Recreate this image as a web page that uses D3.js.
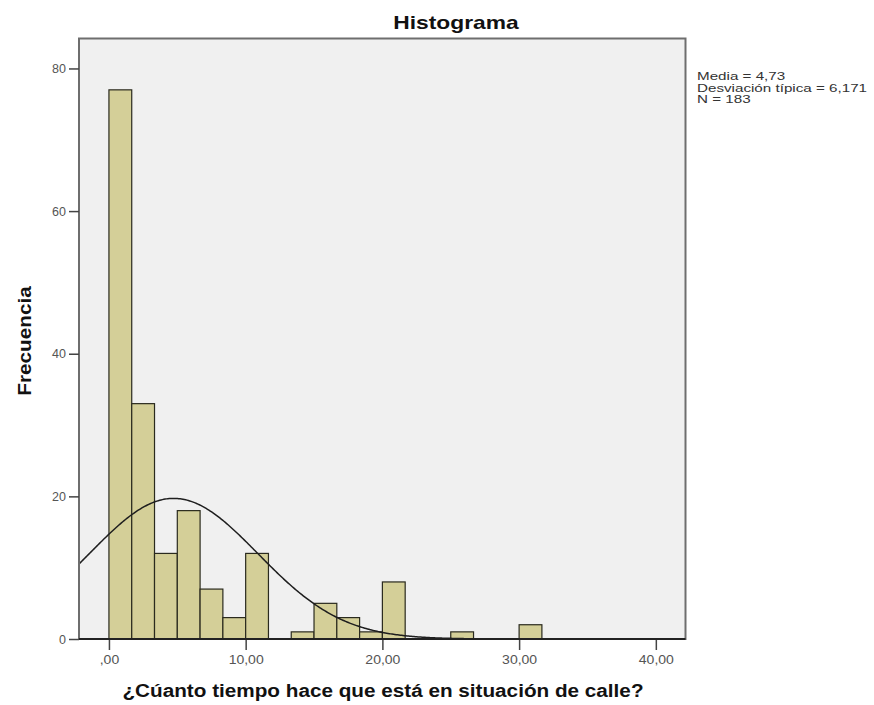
<!DOCTYPE html>
<html>
<head>
<meta charset="utf-8">
<script src="https://cdnjs.cloudflare.com/ajax/libs/d3/7.8.5/d3.min.js"></script>
<style>
    body { margin: 0; background: #ffffff; }
    text { font-family: Arial, "Liberation Sans", sans-serif; }
</style>
</head>
<body>
<div id="chart"></div>
<script>
// Frequencies per bin (bin width 1,667), starting at ,00
const binWidth = 5 / 3;
const counts = [77, 33, 12, 18, 7, 3, 12, 0, 1, 5, 3, 1, 8, 0, 0, 1, 0, 0, 2];
const xTicks = [0, 10, 20, 30, 40];
const yTicks = [0, 20, 40, 60, 80];
const statLabels = ["Media = 4,73", "Desviación típica = 6,171", "N = 183"];
const mean = 4.73, sd = 6.171, n = 183;

const totalWidth = 874, totalHeight = 705;
const margin = {top: 38.5, right: 188.5, bottom: 66, left: 79};
const width = totalWidth - margin.left - margin.right,
    height = totalHeight - margin.top - margin.bottom;

const svg = d3.select("#chart").append("svg")
    .attr("width", totalWidth)
    .attr("height", totalHeight);

const g = svg.append("g")
    .attr("transform", "translate(" + margin.left + "," + margin.top + ")");

const x = d3.scaleLinear().domain([-2.19, 42.17]).range([0, width]);
const y = d3.scaleLinear().domain([0, 84.2]).range([height, 0]);

// stretch a text horizontally (the reference glyphs are wide)
function stretch(sel, factor) {
    sel.each(function() {
        let len = this.getComputedTextLength();
        d3.select(this)
            .attr("textLength", len * factor)
            .attr("lengthAdjust", "spacingAndGlyphs");
    });
}

// plot background
g.append("rect")
    .attr("width", width)
    .attr("height", height)
    .attr("fill", "#f0f0f0");

// bars (empty bins are not drawn)
const bins = counts.map((c, i) => ({x0: i * binWidth, x1: (i + 1) * binWidth, count: c}))
    .filter(d => d.count > 0);

g.selectAll(".bar")
    .data(bins)
    .enter().append("rect")
    .attr("class", "bar")
    .attr("x", d => x(d.x0))
    .attr("y", d => y(d.count))
    .attr("width", d => x(d.x1) - x(d.x0))
    .attr("height", d => y(0) - y(d.count))
    .attr("fill", "#d4cf98")
    .attr("stroke", "#2a2a1e")
    .attr("stroke-width", 1.2);

// fitted normal curve
const curveData = d3.range(x.domain()[0], x.domain()[1], 0.1).map(v => ({
    x: v,
    y: n * binWidth / (sd * Math.sqrt(2 * Math.PI)) * Math.exp(-((v - mean) ** 2) / (2 * sd * sd))
}));

g.append("path")
    .datum(curveData)
    .attr("fill", "none")
    .attr("stroke", "#1e1e1e")
    .attr("stroke-width", 1.5)
    .attr("d", d3.line().x(d => x(d.x)).y(d => y(d.y)));

// frame
g.append("rect")
    .attr("width", width)
    .attr("height", height)
    .attr("fill", "none")
    .attr("stroke", "#6e6e6e")
    .attr("stroke-width", 2);

// axes
const fmt = d => d === 0 ? ",00" : d3.format(".2f")(d).replace(".", ",");

const xAxis = d3.axisBottom(x).tickValues(xTicks).tickFormat(fmt).tickSize(11).tickPadding(5);
const yAxis = d3.axisLeft(y).tickValues(yTicks).tickFormat(d3.format("d")).tickSize(10).tickPadding(3);

const xAxisGroup = g.append("g")
    .attr("class", "x-axis axis")
    .attr("transform", `translate(0,${height})`)
    .call(xAxis);

const yAxisGroup = g.append("g")
    .attr("class", "y-axis axis")
    .call(yAxis);

g.selectAll(".axis .domain").remove();
g.selectAll(".axis line").attr("stroke", "#444").attr("stroke-width", 1.5);
g.selectAll(".axis text")
    .attr("fill", "#555")
    .style("font-size", "12.5px");
stretch(xAxisGroup.selectAll("text"), 1.12);

// dark baseline
g.append("line")
    .attr("x1", 0).attr("x2", width)
    .attr("y1", height).attr("y2", height)
    .attr("stroke", "#222")
    .attr("stroke-width", 2);

// titles
svg.append("text")
    .attr("x", 456)
    .attr("y", 29)
    .attr("text-anchor", "middle")
    .style("font-size", "19px")
    .style("font-weight", "bold")
    .attr("fill", "#111")
    .text("Histograma")
    .call(stretch, 1.2);

svg.append("text")
    .attr("x", 383)
    .attr("y", 697)
    .attr("text-anchor", "middle")
    .style("font-size", "18px")
    .style("font-weight", "bold")
    .attr("fill", "#111")
    .text("¿Cúanto tiempo hace que está en situación de calle?")
    .call(stretch, 1.15);

svg.append("text")
    .attr("transform", "translate(31,341) rotate(-90)")
    .attr("text-anchor", "middle")
    .style("font-size", "18px")
    .style("font-weight", "bold")
    .attr("fill", "#111")
    .text("Frecuencia")
    .call(stretch, 1.15);

// stats box
svg.append("g")
    .attr("transform", "translate(697,80)")
    .selectAll("text")
    .data(statLabels)
    .enter().append("text")
    .attr("y", (d, i) => i * 11.5)
    .style("font-size", "11px")
    .attr("fill", "#333")
    .text(d => d)
    .call(stretch, 1.38);
</script>
</body>
</html>
